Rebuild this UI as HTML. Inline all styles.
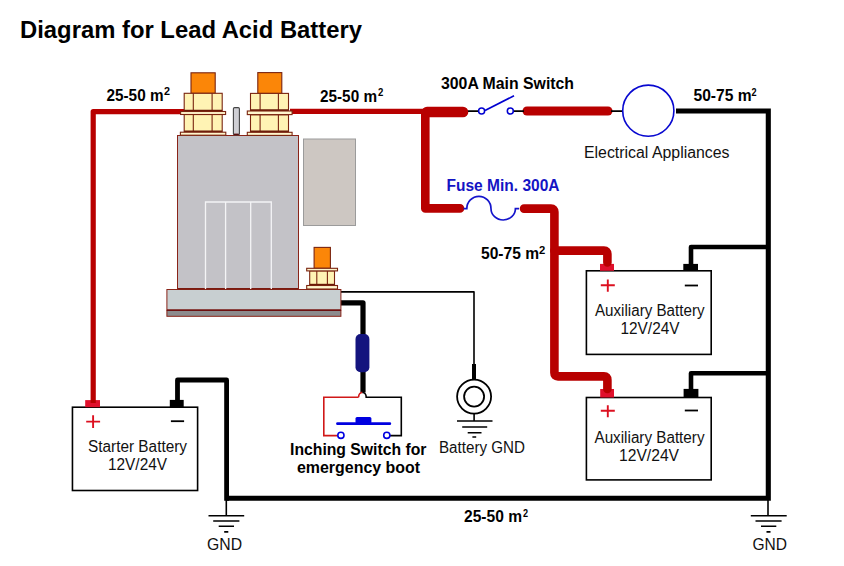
<!DOCTYPE html>
<html><head><meta charset="utf-8">
<style>
html,body{margin:0;padding:0;background:#fff;width:844px;height:566px;overflow:hidden}
svg{display:block}
text{font-family:"Liberation Sans",sans-serif}
.b{font-weight:bold}
</style></head><body>
<svg width="844" height="566" viewBox="0 0 844 566">
<rect width="844" height="566" fill="#fff"/>
<!-- title -->
<text x="20" y="37.6" font-size="24" class="b" fill="#000" textLength="342" lengthAdjust="spacingAndGlyphs">Diagram for Lead Acid Battery</text>

<!-- batteries -->
<g fill="#fff" stroke="#000" stroke-width="1.6">
<rect x="586.4" y="270.8" width="124.8" height="83.6"/>
<rect x="586.4" y="397.5" width="124.8" height="82.4"/>
<rect x="72.45" y="407.2" width="125.15" height="83.3"/>
</g>
<g fill="#e0102c">
<rect x="600" y="263.9" width="14" height="6.9"/>
<rect x="600.2" y="389" width="13.8" height="8.5"/>
<rect x="85.2" y="400.1" width="14.8" height="7.1"/>
</g>
<g fill="#000">
<rect x="683.3" y="263.9" width="14.7" height="6.9"/>
<rect x="683.6" y="388.9" width="14.8" height="8.6"/>
<rect x="169.8" y="399.9" width="13.9" height="7.3"/>
</g>
<!-- ===== wires ===== -->
<g fill="none" stroke-linejoin="round">
<!-- left red thin -->
<path d="M93.2,403 V111.6 H185" stroke="#b80000" stroke-width="5.2"/>
<!-- terminal2 to junction -->
<path d="M290,111.3 H425" stroke="#b80000" stroke-width="5.2"/>
<!-- thick red junction + vertical -->
<path d="M425.3,114 V208.4 H460" stroke="#b80000" stroke-width="8.6" stroke-linecap="round"/>
<path d="M427,112 H463" stroke="#b80000" stroke-width="10.6" stroke-linecap="round"/>
<!-- right fuse side -->
<path d="M524,208.6 H551 Q554.4,208.6 554.4,212 V372.8 Q554.4,376.4 558,376.4 H604 Q607.4,376.4 607.4,380 V389" stroke="#b80000" stroke-width="8.6" stroke-linecap="round"/>
<path d="M554.4,250.6 H604 Q607.4,250.6 607.4,254 V262.5" stroke="#b80000" stroke-width="8.6" stroke-linecap="round"/>
<!-- main switch red -->
<path d="M527,111 H608" stroke="#b80000" stroke-width="9" stroke-linecap="round"/>
<!-- black thin switch wires -->
<path d="M468,111.1 H479 M514,111.1 H524 M611,111.1 H623" stroke="#000" stroke-width="1.7"/>
<!-- black thick right -->
<path d="M676,111 H768.3 V498.3 H226.3" stroke="#000" stroke-width="5.1" stroke-linejoin="miter"/>
<path d="M226.6,500.7 V380 H177.5 V401" stroke="#000" stroke-width="4.8"/>
<path d="M768,247 H691 V265" stroke="#000" stroke-width="4.6"/>
<path d="M768,373.2 H691 V391" stroke="#000" stroke-width="4.6"/>
<!-- base plate wires -->
<path d="M341,291.9 H474 V366" stroke="#000" stroke-width="1.6"/>
<path d="M474,364 V381" stroke="#000" stroke-width="4"/>
<path d="M340,302.8 H363 V392.5" stroke="#000" stroke-width="5.2"/>
</g>

<!-- fuse wave -->
<path d="M463.5,208.7 H466.8 A12.1,12.4 0 0 1 491,208.7 A12.2,11.3 0 0 0 515.4,208.7 H519" fill="none" stroke="#1414cc" stroke-width="1.7"/>
<!-- main switch -->
<circle cx="481.6" cy="111" r="3" fill="#fff" stroke="#0000d0" stroke-width="1.5"/>
<circle cx="510.3" cy="111" r="3" fill="#fff" stroke="#0000d0" stroke-width="1.5"/>
<path d="M485,110.5 L514,95.8" stroke="#0000d0" stroke-width="1.7"/>
<!-- appliance circle -->
<circle cx="648.3" cy="110.7" r="25.6" fill="#fff" stroke="#0808d0" stroke-width="1.6"/>

<!-- ===== solenoid ===== -->
<g stroke="#8a2418" stroke-width="1">
<rect x="177.5" y="135.5" width="121" height="153.5" fill="#c3c2c7"/>
<rect x="303.5" y="139" width="52" height="86.5" fill="#cdc7c2" stroke="#9b9b9b"/>
<rect x="166.9" y="289.5" width="174" height="20.5" fill="#c8cfd1"/>
<rect x="166.9" y="310.5" width="174" height="5.8" fill="#8c8c8e"/>
</g>
<path d="M166.9,310.3 H340.9" stroke="#6e1010" stroke-width="1.6"/>
<path d="M178,288.8 H205 M206,288.8 H298" stroke="#7a1a10" stroke-width="1.4"/>
<g stroke="#f4f4f6" stroke-width="1.3" fill="none">
<path d="M205.5,289 V202 H271.3 V289 M225.6,202 V289 M250.7,202 V289"/>
</g>
<!-- terminal 1 -->
<g stroke="#7a2410" stroke-width="1.1">
<rect x="191" y="72.8" width="24.2" height="20.5" fill="#fb8608"/>
<rect x="184.2" y="93.3" width="38" height="18" fill="#fff3b4"/>
<rect x="184.2" y="114.5" width="38" height="17.6" fill="#fff3b4"/>
<path d="M193.3,93.3 V111.3 M212.1,93.3 V111.3 M193.3,114.5 V132 M212.1,114.5 V132" fill="none"/>
</g>
<path d="M184.2,110.6 H222.2 M184.2,131.3 H222.2" stroke="#6a1a08" stroke-width="1.8"/>
<g stroke="#7a2410" stroke-width="1.1">
<rect x="180.6" y="111.5" width="45" height="3" fill="#fff6cc"/>
<rect x="180.4" y="132.2" width="45.4" height="3" fill="#fff6cc"/>
</g>
<!-- terminal 2 -->
<g stroke="#7a2410" stroke-width="1.1">
<rect x="257.8" y="72.6" width="24" height="20.8" fill="#fb8608"/>
<rect x="250.5" y="93.4" width="38" height="17.3" fill="#fff3b4"/>
<rect x="250.5" y="114.8" width="38" height="17.3" fill="#fff3b4"/>
<path d="M260.1,93.4 V110.7 M278.4,93.4 V110.7 M260.1,114.8 V132 M278.4,114.8 V132" fill="none"/>
</g>
<path d="M250.5,110.2 H288.5 M250.5,131.4 H288.5" stroke="#6a1a08" stroke-width="1.8"/>
<g stroke="#7a2410" stroke-width="1.1">
<rect x="247.3" y="111" width="44.8" height="3.6" fill="#fff6cc"/>
<rect x="247.3" y="132.3" width="44.8" height="3.1" fill="#fff6cc"/>
</g>
<!-- pin -->
<rect x="233.4" y="107.6" width="6" height="27.4" rx="1.2" fill="#cfcfd4" stroke="#444" stroke-width="1.1"/>
<path d="M234,134.3 H238.8" stroke="#5a1010" stroke-width="1.4"/>
<!-- small terminal -->
<g stroke="#7a2410" stroke-width="1.1">
<rect x="314.1" y="247.4" width="16.3" height="20.9" fill="#fb8608"/>
<rect x="309.7" y="270.9" width="24.8" height="14.4" fill="#fff3b4"/>
<path d="M316.8,270.9 V285 M327.4,270.9 V285" fill="none"/>
</g>
<path d="M309.7,284.6 H334.5" stroke="#6a1a08" stroke-width="1.6"/>
<g stroke="#7a2410" stroke-width="1.1">
<rect x="306.7" y="268.3" width="30.8" height="2.6" fill="#fff6cc"/>
<rect x="306.7" y="285.5" width="30.8" height="3.5" fill="#fff6cc"/>
</g>

<!-- navy fuse -->
<rect x="355.5" y="334.1" width="13.9" height="38.2" rx="5" fill="#14147e"/>

<!-- inching switch -->
<path d="M358.6,397.3 H323.8 V435.6 H337.7" fill="none" stroke="#d01818" stroke-width="1.6"/>
<path d="M358.6,397.3 A3.8,4.9 0 0 1 362.4,392.4" fill="none" stroke="#d01818" stroke-width="1.6"/>
<path d="M362.4,392.4 A3.8,4.9 0 0 1 366.2,397.3 H401.3 V435.6 H390" fill="none" stroke="#000" stroke-width="1.6"/>
<circle cx="340.9" cy="435.3" r="3.1" fill="#fff" stroke="#0000e0" stroke-width="1.6"/>
<circle cx="386.8" cy="435.3" r="3.1" fill="#fff" stroke="#0000e0" stroke-width="1.6"/>
<path d="M337.5,423.7 H389.8" stroke="#0000e0" stroke-width="2.8" stroke-linecap="round"/>
<rect x="355.5" y="417" width="15.9" height="6.5" rx="1.5" fill="#0000e0"/>

<!-- battery GND symbol -->
<circle cx="474.1" cy="396.6" r="17" fill="#fff" stroke="#000" stroke-width="1.8"/>
<circle cx="474.1" cy="396.6" r="10" fill="#fff" stroke="#000" stroke-width="1.8"/>
<g stroke="#000" stroke-width="1.6">
<path d="M474.1,413.6 V421"/>
<path d="M457,421 H492.5 M462.2,427 H487.2 M467.7,432.7 H481.5 M472.4,437 H476.2"/>
</g>

<!-- ground left -->
<g stroke="#000" stroke-width="1.6">
<path d="M226.3,500 V515.8"/>
<path d="M208.5,515.8 H244.2 M213.2,521 H239.4 M218.7,526.3 H234 M224.2,531.9 H228.3"/>
</g>
<!-- ground right -->
<g stroke="#000" stroke-width="1.6">
<path d="M768,500 V515.8"/>
<path d="M750.8,515.8 H786.7 M755.5,521 H781.6 M761,526.3 H776.3 M766.5,531.9 H770.5"/>
</g>

<g stroke="#dc1020" stroke-width="1.9">
<path d="M600.8,285.3 H614.8 M607.8,279.6 V291.8"/>
<path d="M600.8,410.8 H614.8 M607.8,405.2 V417.2"/>
<path d="M86.2,421.6 H100.1 M93.1,415.2 V428"/>
</g>
<g stroke="#000" stroke-width="1.8">
<path d="M684.8,285.5 H698"/>
<path d="M684.8,410.5 H698"/>
<path d="M170.9,421.2 H184.1"/>
</g>

<!-- ===== labels ===== -->
<g class="b" fill="#000" font-size="16">
<text x="106.5" y="100.7" textLength="57.0" lengthAdjust="spacingAndGlyphs">25-50 m</text>
<text x="320" y="101.6" textLength="57.0" lengthAdjust="spacingAndGlyphs">25-50 m</text>
<text x="693.5" y="100.9" textLength="58.06" lengthAdjust="spacingAndGlyphs">50-75 m</text>
<text x="481.0" y="258.7" textLength="58.02" lengthAdjust="spacingAndGlyphs">50-75 m</text>
<text x="464.0" y="521.7" textLength="58.02" lengthAdjust="spacingAndGlyphs">25-50 m</text>
<text x="441.0" y="88.6" textLength="133.01" lengthAdjust="spacingAndGlyphs">300A Main Switch</text>
<text x="446.5" y="190.75" textLength="113.0" lengthAdjust="spacingAndGlyphs" fill="#1414c4">Fuse Min. 300A</text>
<text x="290.0" y="454.6" textLength="136.5" lengthAdjust="spacingAndGlyphs">Inching Switch for</text>
<text x="297.0" y="473.2" textLength="123.01" lengthAdjust="spacingAndGlyphs">emergency boot</text>
</g>
<g class="b" fill="#000" font-size="10">
<text x="164.0" y="95.3" textLength="6.01" lengthAdjust="spacingAndGlyphs">2</text>
<text x="378.0" y="96.4" textLength="5.33" lengthAdjust="spacingAndGlyphs">2</text>
<text x="751.5" y="95.7" textLength="5.06" lengthAdjust="spacingAndGlyphs">2</text>
<text x="539.0" y="253.8" textLength="6.27" lengthAdjust="spacingAndGlyphs">2</text>
<text x="523" y="516.8" textLength="5.06" lengthAdjust="spacingAndGlyphs">2</text>
</g>
<g fill="#111" font-size="16">
<text x="584.0" y="157.6" textLength="145.52" lengthAdjust="spacingAndGlyphs">Electrical Appliances</text>
<text x="595" y="315.8" textLength="109.51" lengthAdjust="spacingAndGlyphs">Auxiliary Battery</text>
<text x="620.5" y="333.9" textLength="59.0" lengthAdjust="spacingAndGlyphs">12V/24V</text>
<text x="594.5" y="442.8" textLength="110.0" lengthAdjust="spacingAndGlyphs">Auxiliary Battery</text>
<text x="619.0" y="460.5" textLength="60.02" lengthAdjust="spacingAndGlyphs">12V/24V</text>
<text x="88.0" y="451.6" textLength="99.01" lengthAdjust="spacingAndGlyphs">Starter Battery</text>
<text x="108.0" y="469.5" textLength="59.0" lengthAdjust="spacingAndGlyphs">12V/24V</text>
<text x="439" y="452.8" textLength="86.02" lengthAdjust="spacingAndGlyphs">Battery GND</text>
<text x="207" y="549.5" textLength="35.04" lengthAdjust="spacingAndGlyphs">GND</text>
<text x="752.5" y="549.7" textLength="34.55" lengthAdjust="spacingAndGlyphs">GND</text>
</g>
</svg>
</body></html>
